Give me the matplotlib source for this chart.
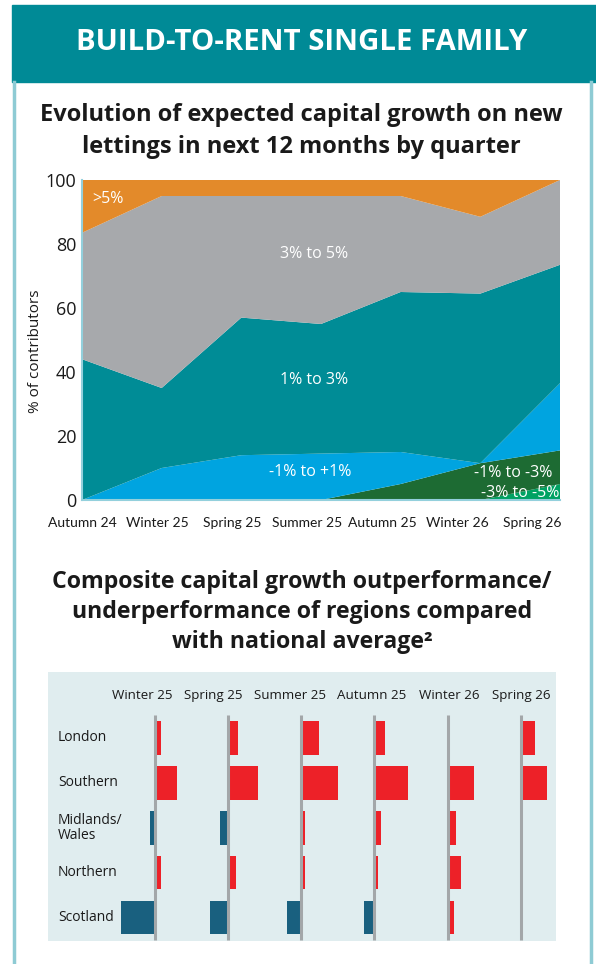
import matplotlib.pyplot as plt
import numpy as np
from matplotlib.patches import Rectangle
from matplotlib.lines import Line2D

plt.rcParams['font.family'] = ['Open Sans', 'DejaVu Sans']

W, H = 596, 964
TEXT = '#1a1a1a'

# expected capital growth, share of contributors (%) per quarter
quarters = ['Autumn 24', 'Winter 25', 'Spring 25', 'Summer 25',
            'Autumn 25', 'Winter 26', 'Spring 26']
minus3_to_minus5 = [0, 0, 0, 0, 0, 0, 5]
minus1_to_minus3 = [0, 0, 0, 0, 5, 11.5, 10.5]
minus1_to_plus1 = [0, 10, 14, 14.5, 10, 0, 21]
plus1_to_plus3 = [44, 25, 43, 40.5, 50, 53, 37]
plus3_to_plus5 = [39.5, 60, 38, 40, 30, 24, 26.5]
over5 = [16.5, 5, 5, 5, 5, 11.5, 0]
band_colors = ['#00a263', '#1d6b33', '#00a4e0', '#008c96', '#a7a9ac', '#e38a2a']

# regional outperformance vs national average
region_quarters = ['Winter 25', 'Spring 25', 'Summer 25',
                   'Autumn 25', 'Winter 26', 'Spring 26']
regions = ['London', 'Southern', 'Midlands/\nWales', 'Northern', 'Scotland']
london = [0.6, 1.0, 1.8, 1.1, 0.0, 1.4]
southern = [2.2, 3.0, 3.7, 3.4, 2.6, 2.6]
midlands_wales = [-0.5, -0.8, 0.4, 0.7, 0.8, 0.0]
northern = [0.6, 0.8, 0.4, 0.4, 1.3, 0.0]
scotland = [-3.4, -1.8, -1.4, -1.0, 0.6, 0.0]


def box(x0, y0, x1, y1):
    # pixel box (origin top-left) -> figure fraction rect
    return [x0 / W, 1 - y1 / H, (x1 - x0) / W, (y1 - y0) / H]


fig = plt.figure(figsize=(W / 100, H / 100), dpi=100)
fig.patch.set_facecolor('white')

# header band and side rules
fig.patches.append(Rectangle((12 / W, 1 - 82 / H), (W - 12) / W, 77 / H,
                             transform=fig.transFigure, color='#008a96', zorder=0))
for xp in (13.5, 591):
    fig.lines.append(Line2D([xp / W, xp / W], [0, 1 - 82 / H], transform=fig.transFigure,
                            color='#8ecbd4', lw=2.5))
fig.text(302 / W, 1 - 43 / H, 'BUILD-TO-RENT SINGLE FAMILY', color='white',
         fontsize=21.2, fontweight='bold', ha='center', va='center')

# ---- stacked area chart ----
fig.text(301 / W, 1 - 115 / H, 'Evolution of expected capital growth on new',
         color=TEXT, fontsize=17, fontweight='bold', ha='center', va='center')
fig.text(301 / W, 1 - 147 / H, 'lettings in next 12 months by quarter',
         color=TEXT, fontsize=17, fontweight='bold', ha='center', va='center')

ax = fig.add_axes(box(82, 180, 560, 500))
x = np.arange(len(quarters))
ax.stackplot(x, minus3_to_minus5, minus1_to_minus3, minus1_to_plus1,
             plus1_to_plus3, plus3_to_plus5, over5, colors=band_colors, lw=0)
ax.set_xlim(0, len(quarters) - 1)
ax.set_ylim(0, 100)
# quarter names sit a little tighter than the data points
ax.set_xticks(np.linspace(0, 5.65, len(quarters)))
ax.set_xticklabels(quarters, fontsize=10, color=TEXT, family='Lato')
ax.set_yticks(np.arange(0, 101, 20))
ax.set_yticklabels([str(v) for v in range(0, 101, 20)], fontsize=13, color=TEXT)
ax.tick_params(length=0)
ax.tick_params(axis='x', pad=12)
ax.tick_params(axis='y', pad=4)
for s in ('top', 'right'):
    ax.spines[s].set_visible(False)
for s in ('left', 'bottom'):
    ax.spines[s].set_color('#93d0dc')
    ax.spines[s].set_linewidth(1.5)
ax.set_ylabel('% of contributors', fontsize=11, color=TEXT)
ax.yaxis.set_label_coords(-0.082, 0.466)

lab = dict(color='white', fontsize=11.5, va='center')
ax.text(0.33, 94, '>5%', ha='center', **lab)
ax.text(2.91, 77, '3% to 5%', ha='center', **lab)
ax.text(2.91, 37.5, '1% to 3%', ha='center', **lab)
ax.text(2.87, 8.6, '-1% to +1%', ha='center', **lab)
ax.text(5.41, 8.5, '-1% to -3%', ha='center', **lab)
ax.text(5.99, 2.3, '-3% to -5%', ha='right', **lab)

# ---- regional bars ----
for yp, line in zip((582, 612, 642), ['Composite capital growth outperformance/',
                                      'underperformance of regions compared',
                                      'with national average\u00b2']):
    fig.text(302 / W, 1 - yp / H, line, color=TEXT, fontsize=16.7,
             fontweight='bold', ha='center', va='center')

row_top, row_bot = -1.456, 4.522
panel = fig.add_axes(box(48, 672, 556, 941))
panel.set_facecolor('#e0edef')
panel.set_xlim(0, 1)
panel.set_ylim(row_bot, row_top)
panel.set_xticks([])
panel.set_yticks([])
for s in panel.spines.values():
    s.set_visible(False)

for i, name in enumerate(regions):
    panel.text(10 / 508, i, name, fontsize=10, color=TEXT, ha='left', va='center',
               linespacing=1.0)

header_x = [142, 213, 290, 372, 449, 521]
for hx, q in zip(header_x, region_quarters):
    panel.text((hx - 48) / 508, -0.944, q, fontsize=9.6, color=TEXT,
               ha='center', va='center')

values = np.array([london, southern, midlands_wales, northern, scotland])
baselines = np.linspace(154.5, 521, len(region_quarters))
PX = 10.0  # pixels per unit
for j, b in enumerate(baselines):
    cax = fig.add_axes(box(b - 36, 672, b + 37.3, 941))
    cax.set_xlim(-36 / PX, 37.3 / PX)
    cax.set_ylim(row_bot, row_top)
    cax.axis('off')
    col = values[:, j]
    cax.barh(np.arange(len(regions)), col, height=0.755,
             color=['#ed2128' if v > 0 else '#19607f' for v in col])
    cax.plot([0, 0], [-0.5, 4.5], color='#a3a7a9', lw=2.2, zorder=3,
             solid_capstyle='butt')

fig.savefig('out.png', dpi=100)
